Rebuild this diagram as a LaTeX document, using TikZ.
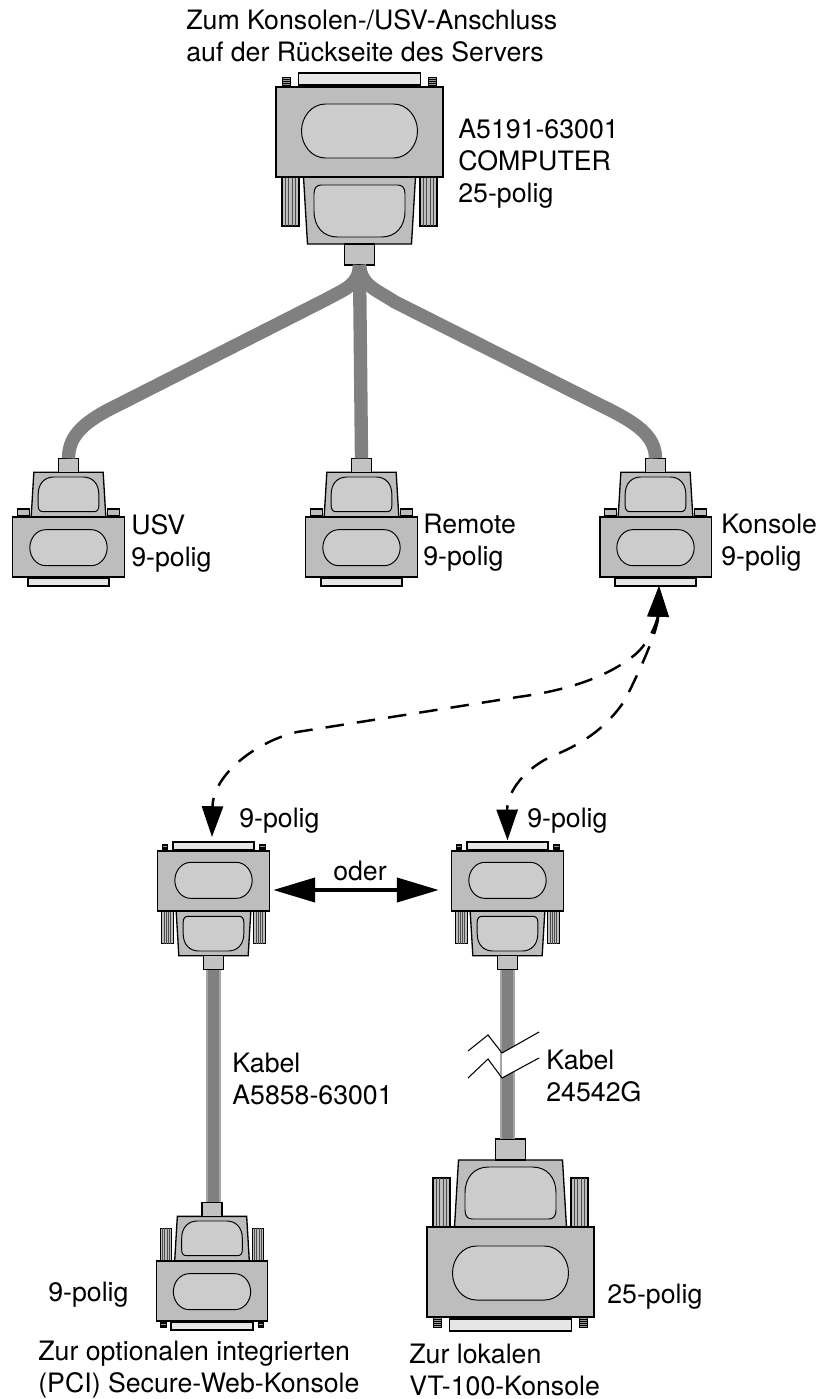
\documentclass[tikz,border=0pt]{standalone}
\usepackage{fontspec}
\setmainfont{TeX Gyre Heros}
\usetikzlibrary{arrows.meta}

\definecolor{bodygray}{HTML}{BDBDBD}
\definecolor{pillgray}{HTML}{CCCCCC}
\definecolor{latchgray}{HTML}{E6E6E6}
\definecolor{cablegray}{HTML}{808080}
\definecolor{edgegray}{HTML}{A6A6A6}

\tikzset{
	dbpart/.style={draw=black, line width=0.75pt, line join=miter},
	dbbody/.style={dbpart, fill=bodygray},
	dbpill/.style={draw=black, line width=0.55pt, fill=pillgray},
	dblatch/.style={draw=black, line width=1pt, fill=latchgray},
	harness/.style={draw=cablegray, line width=7.6pt},
	cable/.style={draw=edgegray, line width=1.3pt, double=cablegray, double distance=6.2pt},
	breakline/.style={draw=black, line width=0.6pt},
	dasharrow/.style={draw=black, line width=1.4pt, dash pattern=on 10.5pt off 7.5pt, {Triangle[length=17.5pt, width=12pt]}-{Triangle[length=17.5pt, width=12pt]}},
	labeltext/.style={inner sep=0pt, anchor=west, align=left, font=\fontsize{15.2}{18.2}\selectfont},
	pics/dblong/.style={code={
		% long thumb screws beside the hood
		\foreach \sx in {-69,69} {
			\path[dbbody, line width=0.6pt] (\sx-8.5,0) rectangle (\sx+8.5,49);
			\foreach \gx in {-5,-2,2,5}
				\draw[black!70, line width=0.4pt] (\sx+\gx,0) -- (\sx+\gx,49);
		}
		% short threaded screws beside the latch
		\foreach \sx in {-73,73} {
			\path[draw=black, line width=0.3pt, fill=black!40] (\sx-4,-90) rectangle (\sx+4,-100);
			\foreach \gy in {-92,-94,-96,-98}
				\draw[black, line width=0.4pt] (\sx-4,\gy) -- (\sx+4,\gy);
		}
		\dbshell
	}},
	pics/dbflat/.style={code={
		% short blocks beside the hood
		\foreach \sx in {-67.5,67.5} {
			\path[dbbody, line width=0.6pt] (\sx-9.5,2) rectangle (\sx+9.5,12);
			\fill[black!70] (\sx-9.5,0) rectangle (\sx+9.5,2);
		}
		\dbshell
	}}
}

\newcommand{\dbshell}{
	\path[dbbody] (-56,0) -- (56,0) -- (52,67) -- (-52,67) -- cycle;
	\path[dbpill] (-38,8) -- (38,8) .. controls (43,8) and (45.5,11) .. (45.5,17) -- (45.5,34)
		.. controls (45.5,50) and (36,60) .. (22,60) -- (-22,60)
		.. controls (-36,60) and (-45.5,50) .. (-45.5,34) -- (-45.5,17)
		.. controls (-45.5,11) and (-43,8) .. (-38,8) -- cycle;
	\path[dbpart, fill=pillgray!95!black] (-15,67) rectangle (15,88);
	\path[dbbody] (-83.5,-90) rectangle (83.5,0);
	\path[dbpill] (-34,-73) -- (34,-73) .. controls (48,-73) and (58,-60) .. (58,-46)
		.. controls (58,-32) and (48,-19) .. (34,-19) -- (-34,-19)
		.. controls (-48,-19) and (-58,-32) .. (-58,-46)
		.. controls (-58,-60) and (-48,-73) .. (-34,-73) -- cycle;
	\path[dblatch] (-61,-92) rectangle (61,-104);
	\fill[black] (-61,-90) rectangle (61,-93);
	\coordinate (-stub) at (0,88);
	\coordinate (-plug) at (0,-106);
}

\begin{document}
\begin{tikzpicture}[x=0.02cm, y=-0.02cm]
	\useasboundingbox (0,0) rectangle (821,1399);
	
	% connectors
	\pic (topcon) at (359.5,177) {dblong};
	\pic[scale=2/3, yscale=-1] (usvcon) at (68.5,517) {dbflat};
	\pic[scale=2/3, yscale=-1] (remotecon) at (361.5,517) {dbflat};
	\pic[scale=2/3, yscale=-1] (konsolecon) at (655.5,517) {dbflat};
	\pic[scale=2/3] (webcon) at (213.5,911) {dblong};
	\pic[scale=2/3] (vtcon) at (507.5,911) {dblong};
	\pic[scale=2/3, yscale=-1] (webend) at (212,1261) {dblong};
	\pic[yscale=-1] (vtend) at (510.5,1227) {dblong};
	
	% cables
	\draw[harness] (topcon-stub) .. controls +(-1,20) and (347,288) .. (325,300) -- (118,405)
		.. controls (85,421) and (68.5,435) .. (usvcon-stub);
	\draw[harness] (topcon-stub) .. controls +(2,20) and (373,288) .. (395,302) -- (600,405)
		.. controls (635,422) and (655.5,435) .. (konsolecon-stub);
	\draw[harness] (topcon-stub) -- (remotecon-stub);
	\draw[cable] (webcon-stub) -- (webcon-stub |- webend-stub);
	\draw[cable] (vtcon-stub) -- (vtcon-stub |- vtend-stub);
	
	% cable break
	\coordinate (brka) at (468,1051);
	\coordinate (brkb) at (488,1035);
	\coordinate (brkc) at (502,1053);
	\coordinate (brkd) at (539,1032);
	\coordinate (brke) at (468,1078);
	\coordinate (brkf) at (488,1059);
	\coordinate (brkg) at (502,1078);
	\coordinate (brkh) at (539,1058);
	\fill[white] (brkc) -- (brkd) -- (brkh) -- (brkg) -- cycle;
	\draw[breakline] (brka) -- (brkb) -- (brkc) -- (brkd);
	\draw[breakline] (brke) -- (brkf) -- (brkg) -- (brkh);
	
	% dashed routes
	\coordinate (konsoletip) at (659,586);
	\coordinate (webtip) at (212,837);
	\draw[dasharrow] (konsoletip) .. controls (658,615) and (655,635) .. (637,653)
		.. controls (610,676) and (570,690) .. (518,697) -- (297,732)
		.. controls (255,742) and (213,775) .. (webtip);
	\draw[dasharrow] (konsoletip) .. controls (658,625) and (650,650) .. (625,700)
		.. controls (605,730) and (580,745) .. (550,757)
		.. controls (520,772) and (507,795) .. (vtcon-plug);
	
	% oder arrow
	\coordinate (oderl) at (273,890);
	\coordinate (oderr) at (439,890);
	\draw[line width=2.8pt, {Triangle[length=24pt, width=13.5pt]}-{Triangle[length=24pt, width=13.5pt]}] (oderl) -- (oderr);
	\node[labeltext, anchor=center] (odertext) at (360,871) {oder};
	
	% labels
	\node[labeltext] (zumtext) at (186,36) {Zum Konsolen-/USV-Anschluss\\auf der Rückseite des Servers};
	\node[labeltext] (topcontext) at (458,164) {A5191-63001\\COMPUTER\\25-polig};
	\node[labeltext] (usvtext) at (131,543) {USV\\9-polig};
	\node[labeltext] (remotetext) at (423,543) {Remote\\9-polig};
	\node[labeltext] (konsoletext) at (721,543) {Konsole\\9-polig};
	\node[labeltext] (webpins) at (239,821) {9-polig};
	\node[labeltext] (vtpins) at (527,821) {9-polig};
	\node[labeltext] (webcable) at (232,1079) {Kabel\\A5858-63001};
	\node[labeltext] (vtcable) at (546,1076) {Kabel\\24542G};
	\node[labeltext] (webendpins) at (48,1295) {9-polig};
	\node[labeltext] (vtendpins) at (607,1297) {25-polig};
	\node[labeltext] (webendtext) at (38,1370) {Zur optionalen integrierten\\(PCI) Secure-Web-Konsole};
	\node[labeltext] (vtendtext) at (409,1370) {Zur lokalen\\VT-100-Konsole};
	
\end{tikzpicture}
\end{document}
